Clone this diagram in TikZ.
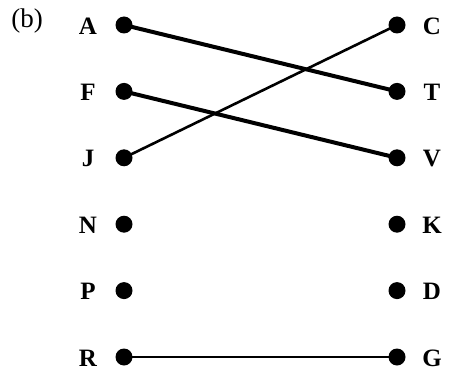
\documentclass[tikz,border=0pt]{standalone}
\usepackage{fontspec}
\setmainfont{Liberation Serif}
\begin{document}
\begin{tikzpicture}[x=1pt,y=-1pt,
    dot/.style={circle, fill=black, inner sep=0pt, minimum size=17pt},
    letter/.style={font=\fontsize{25}{30}\selectfont\bfseries, inner sep=0pt},
    thickline/.style={line width=4pt, black},
    thinline/.style={line width=2.6pt, black}]

    \useasboundingbox (0,0) rectangle (454,382);

    % === PART LABEL ===
    \node[font=\fontsize{27}{32}\selectfont, inner sep=0pt] (part) at (27,21) {(b)};

    % === LEFT COLUMN ===
    \node[dot] (A) at (124,25) {};
    \node[dot] (F) at (124,91.4) {};
    \node[dot] (J) at (124,157.8) {};
    \node[dot] (N) at (124,224.2) {};
    \node[dot] (P) at (124,290.6) {};
    \node[dot] (R) at (124,357) {};

    \node[letter] (labA) at (88,26) {A};
    \node[letter] (labF) at (88,92.4) {F};
    \node[letter] (labJ) at (88,158.8) {J};
    \node[letter] (labN) at (88,225.2) {N};
    \node[letter] (labP) at (88,291.6) {P};
    \node[letter] (labR) at (88,358) {R};

    % === RIGHT COLUMN ===
    \node[dot] (C) at (397,25) {};
    \node[dot] (T) at (397,91.4) {};
    \node[dot] (V) at (397,157.8) {};
    \node[dot] (K) at (397,224.2) {};
    \node[dot] (D) at (397,290.6) {};
    \node[dot] (G) at (397,357) {};

    \node[letter] (labC) at (432,26) {C};
    \node[letter] (labT) at (432,92.4) {T};
    \node[letter] (labV) at (432,158.8) {V};
    \node[letter] (labK) at (432,225.2) {K};
    \node[letter] (labD) at (432,291.6) {D};
    \node[letter] (labG) at (432,358) {G};

    % === MATCHING LINES ===
    \draw[thickline] (A.center) -- (T.center);
    \draw[thickline] (F.center) -- (V.center);
    \draw[thinline] (J.center) -- (C.center);
    \draw[thinline] (R.center) -- (G.center);

\end{tikzpicture}
\end{document}
